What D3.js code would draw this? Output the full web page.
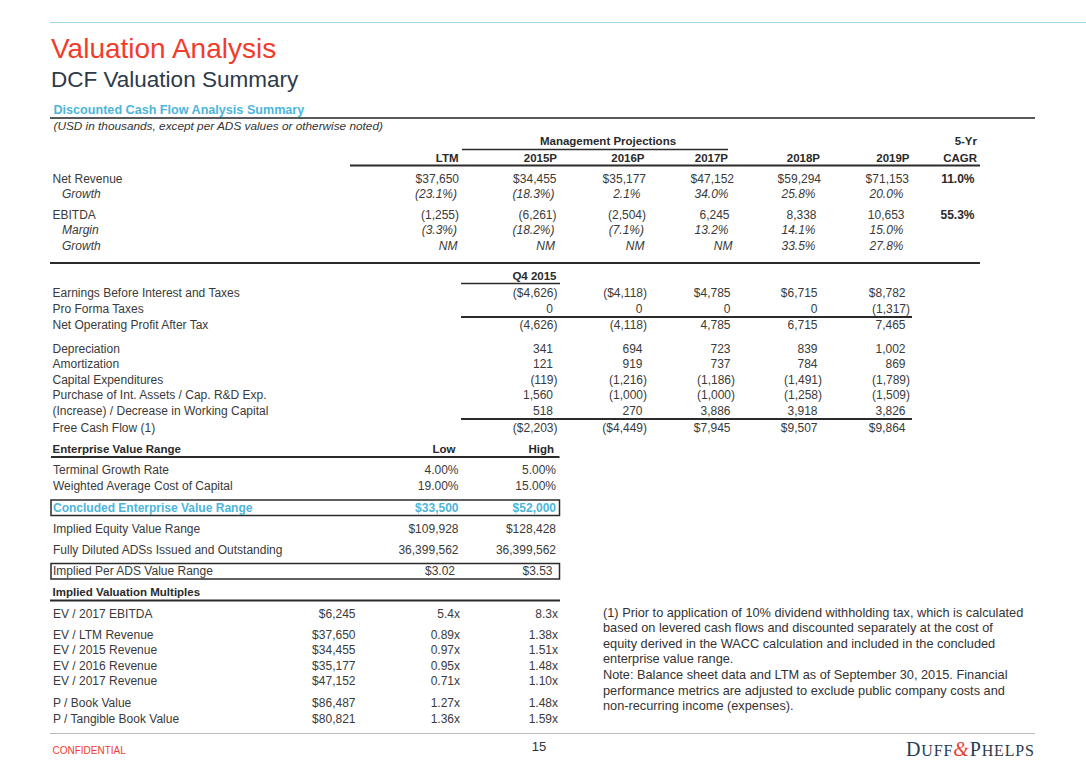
<!DOCTYPE html>
<html><head><meta charset="utf-8">
<script src="https://cdn.jsdelivr.net/npm/d3@7"></script>
<style>
body{margin:0;background:#fff}
svg{display:block;font-family:"Liberation Sans",Arial,sans-serif}
</style>
</head><body>
<svg id="c" width="1086" height="767"></svg>
<script>
// ---------------- DATA ----------------
const upperColumns = ["LTM","2015P","2016P","2017P","2018P","2019P","CAGR"];
const netRevenue    = ["$37,650","$34,455","$35,177","$47,152","$59,294","$71,153","11.0%"];
const revenueGrowth = ["(23.1%)","(18.3%)","2.1%","34.0%","25.8%","20.0%",""];
const ebitda        = ["(1,255)","(6,261)","(2,504)","6,245","8,338","10,653","55.3%"];
const ebitdaMargin  = ["(3.3%)","(18.2%)","(7.1%)","13.2%","14.1%","15.0%",""];
const ebitdaGrowth  = ["NM","NM","NM","NM","33.5%","27.8%",""];

const cashFlowColumns = ["2015P","2016P","2017P","2018P","2019P"];
const cashFlowFirstHeader = "Q4 2015";
const ebit          = ["($4,626)","($4,118)","$4,785","$6,715","$8,782"];
const proFormaTaxes = ["0","0","0","0","(1,317)"];
const nopat         = ["(4,626)","(4,118)","4,785","6,715","7,465"];
const depreciation  = ["341","694","723","839","1,002"];
const amortization  = ["121","919","737","784","869"];
const capex         = ["(119)","(1,216)","(1,186)","(1,491)","(1,789)"];
const intangibles   = ["1,560","(1,000)","(1,000)","(1,258)","(1,509)"];
const workingCap    = ["518","270","3,886","3,918","3,826"];
const freeCashFlow  = ["($2,203)","($4,449)","$7,945","$9,507","$9,864"];

const rangeColumns   = ["Low","High"];
const terminalGrowth = ["4.00%","5.00%"];
const waccValues     = ["19.00%","15.00%"];
const concludedEV    = ["$33,500","$52,000"];
const equityValue    = ["$109,928","$128,428"];
const dilutedADS     = ["36,399,562","36,399,562"];
const perADSValue    = ["$3.02","$3.53"];

const multipleLabels = ["EV / 2017 EBITDA","EV / LTM Revenue","EV / 2015 Revenue","EV / 2016 Revenue","EV / 2017 Revenue","P / Book Value","P / Tangible Book Value"];
const multipleMetric = ["$6,245","$37,650","$34,455","$35,177","$47,152","$86,487","$80,821"];
const multipleLow    = ["5.4x","0.89x","0.97x","0.95x","0.71x","1.27x","1.36x"];
const multipleHigh   = ["8.3x","1.38x","1.51x","1.48x","1.10x","1.48x","1.59x"];

const noteLines = [
  "(1) Prior to application of 10% dividend withholding tax, which is calculated",
  "based on levered cash flows and discounted separately at the cost of",
  "equity derived in the WACC calculation and included in the concluded",
  "enterprise value range.",
  "Note: Balance sheet data and LTM as of September 30, 2015. Financial",
  "performance metrics are adjusted to exclude public company costs and",
  "non-recurring income (expenses)."
];

// ---------------- STYLE / LAYOUT ----------------
const TXT = "#3a3a3a", HDR = "#2a2a2a", RULE = "#2b2b2b", BLUE = "#4cb6db", RED = "#f23c2b";
const svg = d3.select("#c");

// column scale (right edges of numeric columns)
const xCol = d3.scaleOrdinal().domain(upperColumns).range([459,556.5,646,734,821,909,974.5]);
const xRange = d3.scaleOrdinal().domain(rangeColumns).range([458.5,556]);
const xMult = d3.scaleOrdinal().domain(["metric","low","high"]).range([355.5,460,558]);
const LEFT = 52.5;

function line(x1,y,x2,w,c){ svg.append("line").attr("x1",x1).attr("x2",x2).attr("y1",y).attr("y2",y).attr("stroke",c||RULE).attr("stroke-width",w||1); }
function txt(x,y,s,o){ o=o||{}; const t=svg.append("text").attr("x",x).attr("y",y).text(s)
  .attr("font-size",o.size||12).attr("fill",o.fill||TXT).attr("text-anchor",o.anchor||"start");
  if(o.bold) t.attr("font-weight","bold"); if(o.italic) t.attr("font-style","italic"); return t; }

// ---------------- HEADER ----------------
line(50,22.5,1086,1,"#9fd6ea");
txt(51,58,"Valuation Analysis",{size:28,fill:RED});
txt(51,86.5,"DCF Valuation Summary",{size:22.5,fill:"#2e3a48"});
txt(53.5,114,"Discounted Cash Flow Analysis Summary",{size:12.6,fill:BLUE,bold:true});
line(50,118,1035,1.3,"#222");
txt(53.5,129.5,"(USD in thousands, except per ADS values or otherwise noted)",{size:11.8,italic:true,fill:"#333"});

// ---------------- UPPER TABLE ----------------
txt(608,145,"Management Projections",{size:11.5,bold:true,fill:HDR,anchor:"middle"});
line(xCol("LTM")+3,149.5,xCol("2017P")-6,1.5);
txt(xCol("CAGR")+2.5,145,"5-Yr",{size:11.5,bold:true,fill:HDR,anchor:"end"});
const hdrShift = {"LTM":-0.5,"2015P":0.5,"2016P":-1.5,"2017P":-6,"2018P":-1,"2019P":0.5};
upperColumns.slice(0,6).forEach(c=>txt(xCol(c)+hdrShift[c],161.5,c,{size:11.5,bold:true,fill:HDR,anchor:"end"}));
txt(xCol("CAGR")+2.5,161.5,"CAGR",{size:11.5,bold:true,fill:HDR,anchor:"end"});
line(350,165.5,980,2);

function padUpper(v,italic){
  if(v==="NM") return 1.5;
  if(/\)$/.test(v)) return italic?2:0;
  if(v[0]==="$") return 0;
  if(italic) return 5.5;
  return 4.5;
}
const upperY = d3.scaleLinear().domain([0,1]).range([182.5,198]);
const upperRows = [
  {label:"Net Revenue",values:netRevenue,slot:0},
  {label:"Growth",values:revenueGrowth,slot:1,italic:true},
  {label:"EBITDA",values:ebitda,slot:2.33},
  {label:"Margin",values:ebitdaMargin,slot:3.33,italic:true},
  {label:"Growth",values:ebitdaGrowth,slot:4.33,italic:true}
];
upperRows.forEach(r=>{
  const y = upperY(r.slot);
  txt(r.italic?62:LEFT,y,r.label,{italic:r.italic});
  r.values.forEach((v,i)=>{
    if(!v) return;
    const col = upperColumns[i];
    if(col==="CAGR"){ txt(xCol(col),y,v,{bold:true,fill:HDR,anchor:"end"}); return; }
    txt(xCol(col)-padUpper(v,r.italic),y,v,{italic:r.italic,anchor:"end"});
  });
});
line(50,263,980,2);

// ---------------- CASH FLOW TABLE ----------------
txt(xCol("2015P"),280,cashFlowFirstHeader,{size:11.5,bold:true,fill:HDR,anchor:"end"});
line(461,283.5,560,1.6);
function padLower(v){ return /\)$/.test(v)?0:4.5; }
const lowerY = d3.scaleLinear().domain([0,1]).range([297,312.5]);
const lowerRows = [
  {label:"Earnings Before Interest and Taxes",values:ebit,slot:0},
  {label:"Pro Forma Taxes",values:proFormaTaxes,slot:1},
  {label:"Net Operating Profit After Tax",values:nopat,slot:2.05},
  {label:"Depreciation",values:depreciation,slot:3.6},
  {label:"Amortization",values:amortization,slot:4.6},
  {label:"Capital Expenditures",values:capex,slot:5.6},
  {label:"Purchase of Int. Assets / Cap. R&D Exp.",values:intangibles,slot:6.6},
  {label:"(Increase) / Decrease in Working Capital",values:workingCap,slot:7.6},
  {label:"Free Cash Flow (1)",values:freeCashFlow,slot:8.72}
];
lowerRows.forEach(r=>{
  const y = lowerY(r.slot);
  txt(LEFT,y,r.label);
  r.values.forEach((v,i)=>txt(xCol(cashFlowColumns[i])+1-padLower(v),y,v,{anchor:"end"}));
});
line(461,317,912,1.8);
line(461,419,912,1.8);

// ---------------- ENTERPRISE VALUE RANGE ----------------
txt(LEFT,452.5,"Enterprise Value Range",{size:11.5,bold:true,fill:HDR});
txt(xRange("Low")-3,452.5,"Low",{size:11.5,bold:true,fill:HDR,anchor:"end"});
txt(xRange("High")-2,452.5,"High",{size:11.5,bold:true,fill:HDR,anchor:"end"});
line(51,457,559.5,2);
const evRows = [
  {label:"Terminal Growth Rate",values:terminalGrowth,y:474},
  {label:"Weighted Average Cost of Capital",values:waccValues,y:489.5},
  {label:"Concluded Enterprise Value Range",values:concludedEV,y:511.5,blue:true,box:true},
  {label:"Implied Equity Value Range",values:equityValue,y:532.5},
  {label:"Fully Diluted ADSs Issued and Outstanding",values:dilutedADS,y:553.5},
  {label:"Implied Per ADS Value Range",values:perADSValue,y:575,box:true,pad:3.5}
];
evRows.forEach(r=>{
  if(r.box) svg.append("rect").attr("x",51).attr("y",r.y-11.5).attr("width",508.5).attr("height",15.5)
      .attr("fill","none").attr("stroke",RULE).attr("stroke-width",1.5);
  const o = r.blue?{bold:true,fill:BLUE}:{};
  txt(LEFT+0.5,r.y,r.label,o);
  r.values.forEach((v,i)=>txt(xRange(rangeColumns[i])-(r.pad||0),r.y,v,Object.assign({anchor:"end"},o)));
});

// ---------------- IMPLIED MULTIPLES ----------------
txt(LEFT,596,"Implied Valuation Multiples",{size:11.5,bold:true,fill:HDR});
line(50,600.5,560,2);
const multY = d3.scaleLinear().domain([0,1]).range([618,633.5]);
const multSlots = [0,1.35,2.35,3.35,4.35,5.75,6.75];
multipleLabels.forEach((lab,i)=>{
  const y = multY(multSlots[i]);
  txt(LEFT+0.5,y,lab);
  txt(xMult("metric"),y,multipleMetric[i],{anchor:"end"});
  txt(xMult("low"),y,multipleLow[i],{anchor:"end"});
  txt(xMult("high"),y,multipleHigh[i],{anchor:"end"});
});

// ---------------- NOTES ----------------
noteLines.forEach((s,i)=>txt(603,616.5+15.6*i,s,{size:12.75,fill:"#333"}));

// ---------------- FOOTER ----------------
line(50,733.5,1035,1,"#bcbcbc");
txt(52.5,754,"CONFIDENTIAL",{size:10,fill:RED});
txt(539,751,"15",{size:13,fill:"#333",anchor:"middle"});
const logo = svg.append("text").attr("x",906).attr("y",756).attr("font-family","'Liberation Serif','DejaVu Serif',serif")
  .attr("fill","#2b3a50");
logo.append("tspan").attr("font-size",20).text("D");
logo.append("tspan").attr("font-size",16).text("UFF");
logo.append("tspan").attr("font-size",20).attr("font-style","italic").attr("fill","#e8412f").text("&");
logo.append("tspan").attr("font-size",20).text("P");
logo.append("tspan").attr("font-size",16).text("HELPS");
logo.attr("textLength",128).attr("lengthAdjust","spacing");
</script>
</body></html>
